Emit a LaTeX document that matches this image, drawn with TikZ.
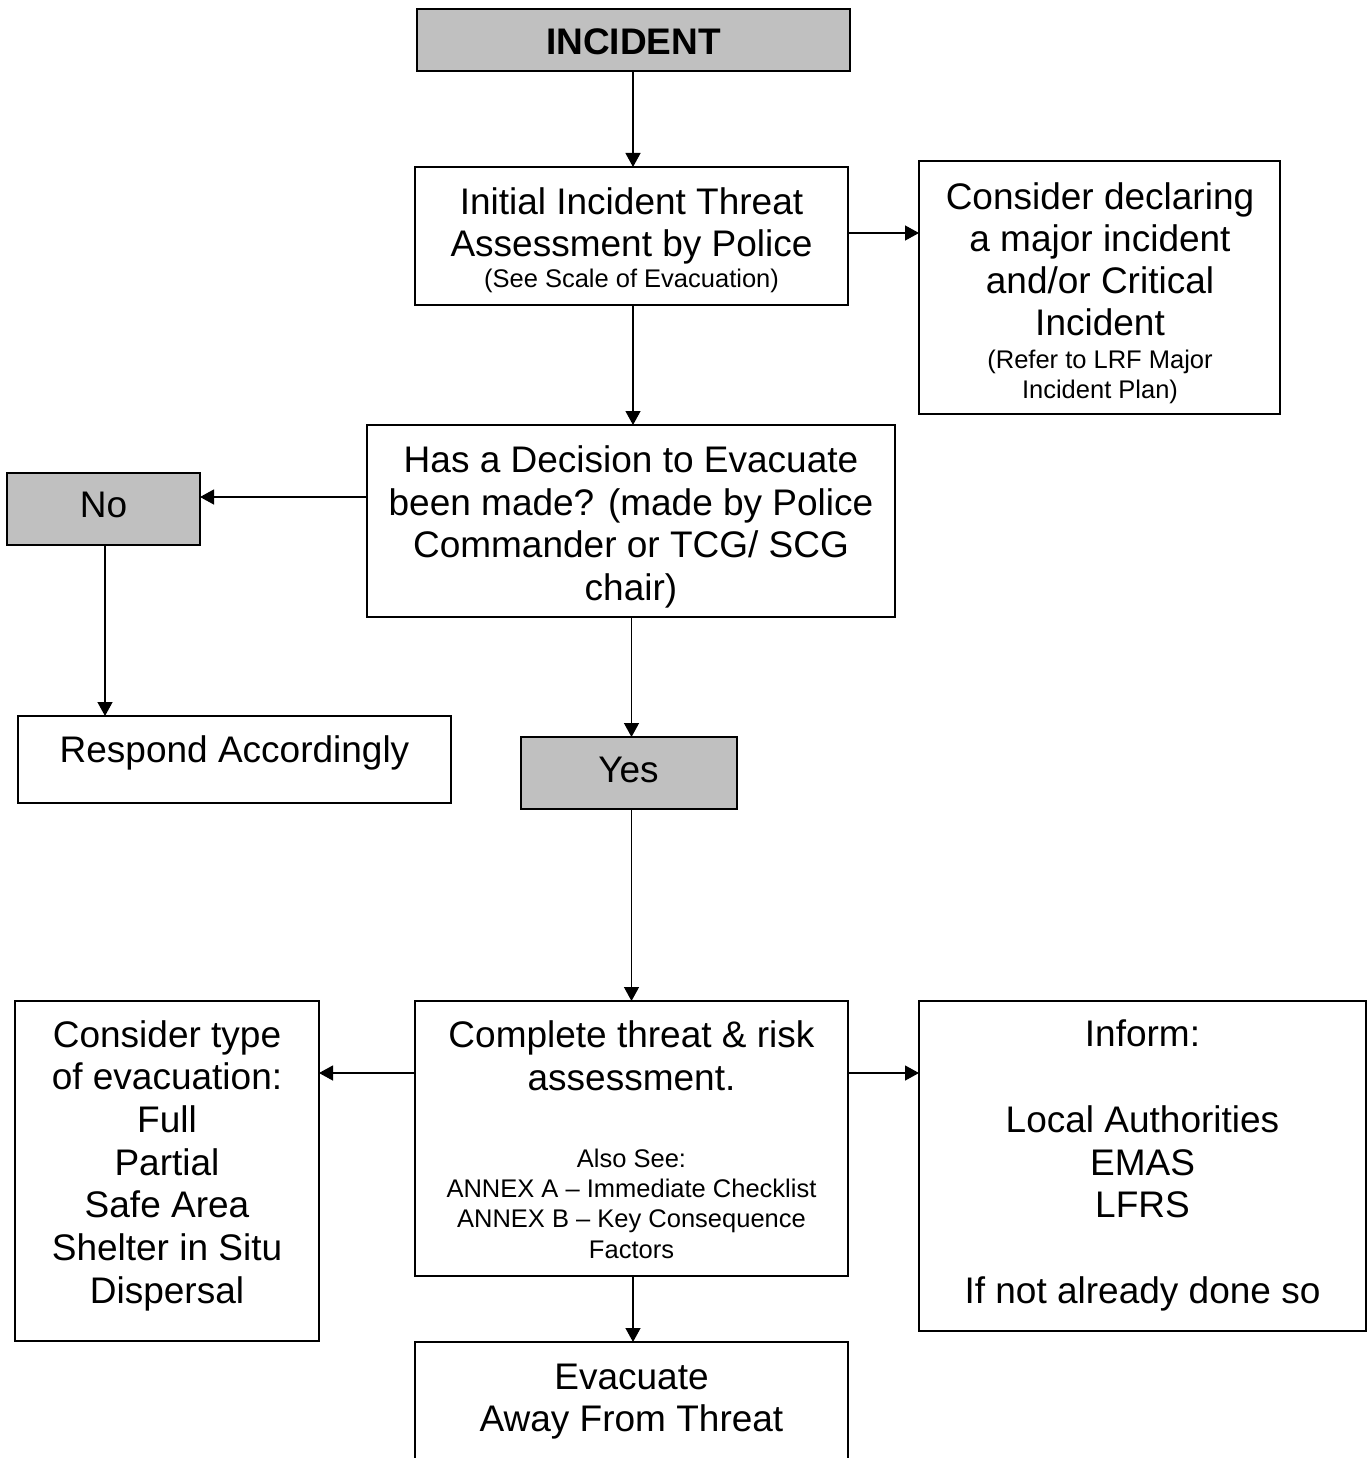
\documentclass[tikz,border=0pt]{standalone}
\usepackage{fontspec}
\setmainfont{Liberation Sans}
\usetikzlibrary{arrows.meta}
\definecolor{boxgray}{HTML}{C0C0C0}
\begin{document}
\begin{tikzpicture}[x=1pt,y=-1pt,
  box/.style={draw=black, line width=1.6pt, inner sep=0pt, outer sep=0pt, anchor=north west},
  gbox/.style={box, fill=boxgray},
  txt/.style={inner sep=0pt, anchor=north, align=center, font=\fontsize{37}{42.7}\selectfont},
  stxt/.style={inner sep=0pt, anchor=north, align=center, font=\fontsize{25.5}{30.4}\selectfont},
  arr/.style={line width=1.3pt, -{Triangle[length=14pt,width=15pt]}}]
\clip (0,0) rectangle (1371,1458);
\fill[white] (0,0) rectangle (1371,1458);

% boxes
\node[gbox, minimum width=433pt, minimum height=62pt] (inc) at (417,9) {};
\node[box, minimum width=433pt, minimum height=138pt] (init) at (415,167) {};
\node[box, minimum width=361pt, minimum height=253pt] (decl) at (919,161) {};
\node[box, minimum width=528pt, minimum height=192pt] (dec) at (367,425) {};
\node[gbox, minimum width=193pt, minimum height=72pt] (no) at (7,473) {};
\node[box, minimum width=433pt, minimum height=87pt] (resp) at (18,716) {};
\node[gbox, minimum width=216pt, minimum height=72pt] (yes) at (521,737) {};
\node[box, minimum width=433pt, minimum height=275pt] (comp) at (415,1001) {};
\node[box, minimum width=304pt, minimum height=340pt] (ctype) at (15,1001) {};
\node[box, minimum width=447pt, minimum height=330pt] (inform) at (919,1001) {};
\node[box, minimum width=433pt, minimum height=160pt] (evac) at (415,1342) {};

% texts
\node[txt, font=\fontsize{37}{42.7}\selectfont\bfseries] (tinc) at (633.5,28.5) {INCIDENT};
\node[txt] (tinit) at (631.5,187) {Initial Incident Threat\\Assessment by Police};
\node[stxt] (tinits) at (631.5,268.5) {(See Scale of Evacuation)};
\node[txt, font=\fontsize{37}{42.3}\selectfont] (tdecl) at (1100,182) {Consider declaring\\a major incident\\and/or Critical\\Incident};
\node[stxt] (tdecls) at (1100,349.5) {(Refer to LRF Major\\Incident Plan)};
\node[txt] (tdec) at (631,445.5) {Has a Decision to Evacuate\\been made? (made by Police\\Commander or TCG/ SCG\\chair)};
\node[txt] (tno) at (103.5,491.5) {No};
\node[txt] (tresp) at (234.5,735.5) {Respond Accordingly};
\node[txt] (tyes) at (628.5,756.5) {Yes};
\node[txt] (tcomp) at (631.5,1020.5) {Complete threat \& risk\\assessment.};
\node[stxt] (tcomps) at (631.5,1148.4) {Also See:\\ANNEX A – Immediate Checklist\\ANNEX B – Key Consequence\\Factors};
\node[txt] (tctype) at (167,1020) {Consider type\\of evacuation:\\Full\\Partial\\Safe Area\\Shelter in Situ\\Dispersal};
\node[txt] (tinform) at (1142.5,1020) {Inform:\\[42.7pt]Local Authorities\\EMAS\\LFRS\\[42.7pt]If not already done so};
\node[txt] (tevac) at (631.5,1363.5) {Evacuate\\Away From Threat};

% connectors
\draw[arr] (633,71) coordinate (a1) -- (a1 |- init.north);
\draw[arr] (init.east |- 0,233) -- (decl.west |- 0,233);
\draw[arr] (633,305) coordinate (a2) -- (a2 |- dec.north);
\draw[arr] (dec.west |- 0,497) -- (no.east |- 0,497);
\draw[arr] (105,545) coordinate (a3) -- (a3 |- resp.north);
\draw[arr] (631.5,617) coordinate (a4) -- (a4 |- yes.north);
\draw[arr] (631.5,809) coordinate (a5) -- (a5 |- comp.north);
\draw[arr] (comp.west |- 0,1073) -- (ctype.east |- 0,1073);
\draw[arr] (comp.east |- 0,1073) -- (inform.west |- 0,1073);
\draw[arr] (633,1276) coordinate (a6) -- (a6 |- evac.north);
\end{tikzpicture}
\end{document}
